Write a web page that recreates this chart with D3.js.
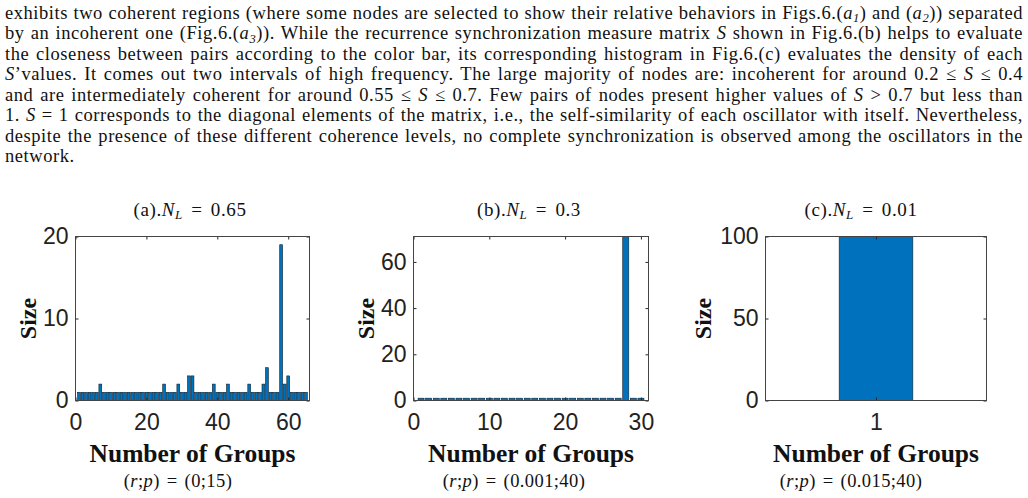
<!DOCTYPE html>
<html>
<head>
<meta charset="utf-8">
<script src="https://cdn.jsdelivr.net/npm/d3@7"></script>
<style>
  body { margin: 0; background: #fff; }
  svg { display: block; }
  text { white-space: pre; }
</style>
</head>
<body>
<svg id="fig" width="1028" height="498"></svg>
<script>
// ---- data ----
// (a) N_L = 0.65 : 65 groups
const sizesA = [1,1,1,1,1,1,2, 1,1,1,1,1,1,1,1,1,1,1,1,1,1,1,1,1, 2, 1,1,1, 2, 1,1, 3,3,
                1,1,1,1,1, 2, 1,1,1, 2, 1,1,1,1,1, 2, 1,1,1, 2, 4, 1,1,1, 19, 2, 3, 1,1,1,1,1];
// (b) N_L = 0.3 : 30 groups, one giant group
const sizesB = [1,1,1,1,1,1,1,1,1,1, 1,1,1,1,1,1,1,1,1,1, 1,1,1,1,1,1,1,71,1,1];
// (c) N_L = 0.01 : a single group
const sizesC = [100];

const xTicksA = [0, 20, 40, 60], yTicksA = [0, 10, 20];
const xTicksB = [0, 10, 20, 30], yTicksB = [0, 20, 40, 60];
const xTicksC = [1],             yTicksC = [0, 50, 100];

const titles = ['(a).$N_{L}$ = 0.65', '(b).$N_{L}$ = 0.3', '(c).$N_{L}$ = 0.01'];
const rpLabels = ['($r$;$p$) = (0;15)', '($r$;$p$) = (0.001;40)', '($r$;$p$) = (0.015;40)'];

const paragraph = [
  "exhibits two coherent regions (where some nodes are selected to show their relative behaviors in Figs.6.($a_{1}$) and ($a_{2}$)) separated",
  "by an incoherent one (Fig.6.($a_{3}$)). While the recurrence synchronization measure matrix $S$ shown in Fig.6.(b) helps to evaluate",
  "the closeness between pairs according to the color bar, its corresponding histogram in Fig.6.(c) evaluates the density of each",
  "$S$\u2019values. It comes out two intervals of high frequency. The large majority of nodes are: incoherent for around 0.2 \u2264 $S$ \u2264 0.4",
  "and are intermediately coherent for around 0.55 \u2264 $S$ \u2264 0.7. Few pairs of nodes present higher values of $S$ > 0.7 but less than",
  "1. $S$ = 1 corresponds to the diagonal elements of the matrix, i.e., the self-similarity of each oscillator with itself. Nevertheless,",
  "despite the presence of these different coherence levels, no complete synchronization is observed among the oscillators in the",
  "network."
];

const svg = d3.select('#fig');
const serif = "'Liberation Serif', 'Times New Roman', serif";
const sans = "'Liberation Sans', Arial, sans-serif";

// tiny markup: $..$ = italic, _{..} = subscript
function rich(sel, str, size) {
  const parts = str.match(/\$|_\{[^}]*\}|[^$_]+/g);
  let it = false, down = false;
  parts.forEach(p => {
    if (p === '$') { it = !it; return; }
    const t = sel.append('tspan').attr('font-style', it ? 'italic' : 'normal');
    if (p.startsWith('_{')) {
      t.text(p.slice(2, -1)).attr('font-size', size * 0.68).attr('dy', size * 0.18);
      down = true;
    } else {
      t.text(p);
      if (down) { t.attr('dy', -size * 0.18); down = false; }
    }
  });
  return sel;
}

// paragraph, justified (part letter spacing, part word spacing)
paragraph.forEach((line, i) => {
  const t = svg.append('text')
    .attr('x', 5).attr('y', 19 + i * 20.45)
    .attr('font-family', serif).attr('font-size', 18.5).attr('fill', '#111');
  rich(t, line, 18.5);
  const len = t.node().getComputedTextLength();
  const txt = t.text();
  const ls = 0.55;
  t.attr('letter-spacing', ls);
  if (i < paragraph.length - 1) {
    const spaces = (txt.match(/ /g) || []).length;
    const extra = 1018 - len - ls * txt.length;
    t.attr('word-spacing', extra / spaces);
  }
});

const panels = [
  { values: sizesA, xDomain: [0, 66], yDomain: [0, 20], xTicks: xTicksA, yTicks: yTicksA,
    left: 75.5, right: 309.5, top: 236.5, bottom: 400.5, ylab: 28, titleX: 190, rpX: 178 },
  { values: sizesB, xDomain: [0, 31], yDomain: [0, 71], xTicks: xTicksB, yTicks: yTicksB,
    left: 413.5, right: 648.5, top: 236.5, bottom: 400.5, ylab: 366, titleX: 529, rpX: 514 },
  { values: sizesC, xDomain: [-0.2, 2.2], yDomain: [0, 100], xTicks: xTicksC, yTicks: yTicksC,
    left: 765.5, right: 986.5, top: 236.5, bottom: 400.5, ylab: 703, titleX: 861, rpX: 851 }
];

panels.forEach((p, k) => {
  const g = svg.append('g');
  const x = d3.scaleLinear().domain(p.xDomain).range([p.left, p.right]);
  const y = d3.scaleLinear().domain(p.yDomain).range([p.bottom, p.top]);
  const bw = x(0.8) - x(0);
  const cx = (p.left + p.right) / 2;

  g.selectAll('rect.bar').data(p.values).join('rect')
    .attr('class', 'bar')
    .attr('x', (d, i) => x(i + 1) - bw / 2)
    .attr('width', bw)
    .attr('y', d => y(d))
    .attr('height', d => y(0) - y(d))
    .attr('fill', '#0072BD')
    .attr('stroke', '#10202e')
    .attr('stroke-width', 0.6);

  const styleAxis = a => {
    a.select('.domain').remove();
    a.selectAll('.tick line').attr('stroke', '#262626');
    a.selectAll('text').attr('font-family', sans).attr('font-size', 23).attr('fill', '#222');
  };
  g.append('g').attr('transform', `translate(0,${p.bottom})`)
    .call(d3.axisBottom(x).tickValues(p.xTicks).tickFormat(d3.format('d'))
      .tickSizeInner(-3).tickSizeOuter(0).tickPadding(13))
    .call(styleAxis);
  g.append('g').attr('transform', `translate(0,${p.top})`)
    .call(d3.axisTop(x).tickValues(p.xTicks).tickSizeInner(-3).tickSizeOuter(0).tickFormat(''))
    .call(styleAxis);
  g.append('g').attr('transform', `translate(${p.left},0)`)
    .call(d3.axisLeft(y).tickValues(p.yTicks).tickSizeInner(-3).tickSizeOuter(0).tickPadding(7))
    .call(styleAxis);
  g.append('g').attr('transform', `translate(${p.right},0)`)
    .call(d3.axisRight(y).tickValues(p.yTicks).tickSizeInner(-3).tickSizeOuter(0).tickFormat(''))
    .call(styleAxis);

  g.append('rect')
    .attr('x', p.left).attr('y', p.top)
    .attr('width', p.right - p.left).attr('height', p.bottom - p.top)
    .attr('fill', 'none').attr('stroke', '#444').attr('stroke-width', 1);

  // title
  rich(g.append('text').attr('x', p.titleX).attr('y', 216)
    .attr('text-anchor', 'middle').attr('font-family', serif).attr('font-size', 19)
    .attr('letter-spacing', 0.6).attr('word-spacing', 3).attr('fill', '#111'),
    titles[k], 19);

  // axis labels
  g.append('text')
    .attr('transform', `translate(${p.ylab},${(p.top + p.bottom) / 2}) rotate(-90)`)
    .attr('text-anchor', 'middle').attr('dy', '0.35em')
    .attr('font-family', serif).attr('font-weight', 'bold').attr('font-size', 24).attr('fill', '#111')
    .text('Size');
  g.append('text')
    .attr('x', cx).attr('y', 462)
    .attr('text-anchor', 'middle')
    .attr('font-family', serif).attr('font-weight', 'bold').attr('font-size', 25.5).attr('fill', '#111')
    .text('Number of Groups');

  rich(g.append('text').attr('x', p.rpX).attr('y', 487)
    .attr('text-anchor', 'middle').attr('font-family', serif).attr('font-size', 18.5)
    .attr('letter-spacing', 0.4).attr('word-spacing', 2).attr('fill', '#111'),
    rpLabels[k], 18.5);
});
</script>
</body>
</html>
